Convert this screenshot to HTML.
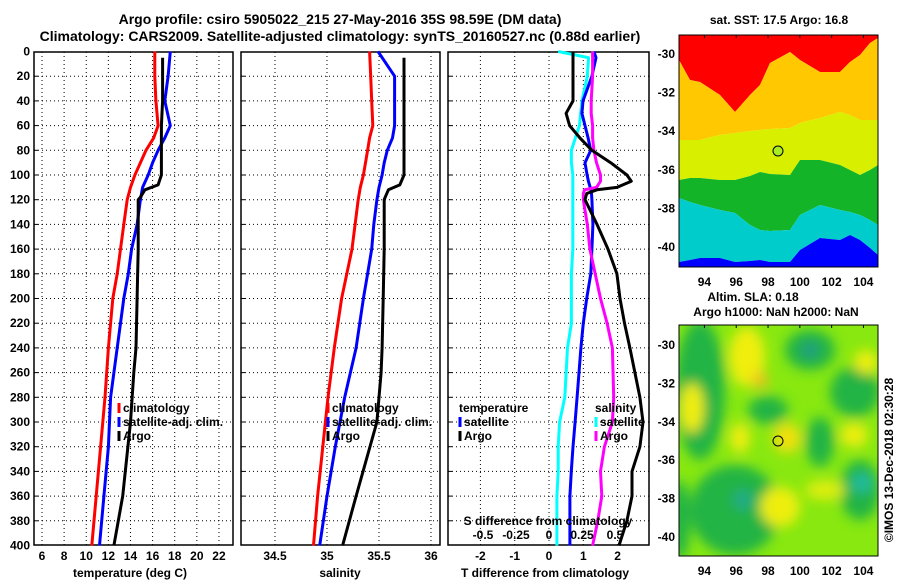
<!DOCTYPE html>
<html><head><meta charset="utf-8"><style>
html,body{margin:0;padding:0;background:#fff}
svg{display:block}
text{font-family:"Liberation Sans",Arial,sans-serif;font-weight:bold;fill:#000}
</style></head><body>
<svg id="c" width="900" height="580" xmlns="http://www.w3.org/2000/svg">
<defs><filter id="bl" x="-20%" y="-20%" width="140%" height="140%"><feGaussianBlur stdDeviation="6"/></filter>
<clipPath id="m2c"><rect x="679" y="325" width="199" height="231"/></clipPath></defs>
<text x="340" y="24" text-anchor="middle" font-size="14">Argo profile: csiro 5905022_215 27-May-2016 35S 98.59E (DM data)</text>
<text x="340" y="41" text-anchor="middle" font-size="14">Climatology: CARS2009. Satellite-adjusted climatology: synTS_20160527.nc (0.88d earlier)</text>
<g id="maps"></g>
<g id="plots"></g>
</svg>
<script>
// ---- data ----
const depthsT = [0,20,40,60,70,80,90,100,110,120,140,160,180,200,240,280,320,360,400];
const tempClim = [16.2,16.2,16.3,16.5,16.1,15.4,14.9,14.4,14.0,13.7,13.4,13.1,12.8,12.4,12.0,11.7,11.3,10.9,10.5];
const tempSat = [17.6,17.4,17.1,17.6,17.1,16.5,16.0,15.6,15.1,14.9,14.6,14.1,13.8,13.4,12.8,12.2,12.0,11.6,11.2];
const argoDepths = [5,20,40,60,80,100,108,112,118,120,160,200,240,260,300,360,400];
const tempArgo = [16.9,16.9,16.9,16.8,16.8,16.8,16.5,15.3,14.9,14.7,14.7,14.6,14.5,14.3,14.0,13.3,12.5];
const salClim = [35.41,35.42,35.43,35.44,35.41,35.39,35.37,35.35,35.32,35.30,35.27,35.24,35.19,35.14,35.07,35.01,34.96,34.91,34.87];
const salSat = [35.49,35.65,35.65,35.65,35.63,35.58,35.55,35.53,35.50,35.48,35.45,35.43,35.39,35.35,35.28,35.17,35.08,35.00,34.93];
const salArgo = [35.74,35.74,35.74,35.74,35.74,35.74,35.70,35.59,35.56,35.55,35.55,35.54,35.53,35.52,35.48,35.28,35.15];
const diffDepths = [0,5,20,40,50,60,70,80,90,100,105,110,112,115,120,140,160,180,200,220,240,280,300,320,340,360,380,400];
const dTsat = [1.31,1.37,1.25,0.99,0.96,1.05,1.14,1.22,1.05,1.11,1.15,1.2,1.22,1.24,1.25,1.28,1.25,1.22,1.1,1.0,0.93,0.82,0.76,0.7,0.65,0.61,0.61,0.61];
const dTargo = [0.7,0.7,0.7,0.7,0.5,0.6,0.9,1.25,1.8,2.27,2.4,1.98,1.4,1.1,1.05,1.4,1.72,1.98,2.07,2.2,2.36,2.65,2.74,2.65,2.42,2.42,2.27,2.04];
const dSsat = [0.07,0.30,0.29,0.25,0.24,0.23,0.20,0.17,0.17,0.18,0.18,0.18,0.18,0.18,0.18,0.18,0.18,0.17,0.17,0.17,0.14,0.12,0.08,0.07,0.07,0.06,0.06,0.06];
const dSargo = [0.33,0.33,0.33,0.32,0.32,0.33,0.33,0.34,0.36,0.39,0.39,0.36,0.27,0.26,0.26,0.29,0.31,0.35,0.39,0.44,0.48,0.49,0.48,0.42,0.39,0.40,0.37,0.33];
const depthTicks = [0,20,40,60,80,100,120,140,160,180,200,220,240,260,280,300,320,340,360,380,400];
const tTicks = [6,8,10,12,14,16,18,20,22];
const sTicks = [34.5,35,35.5,36];
const dTTicks = [-2,-1,0,1,2];
const dSTicks = [-0.5,-0.25,0,0.25,0.5];
const dSTickLabels = ["-0.5","-0.25","0","0.25","0.5"];
const latTicks = [-30,-32,-34,-36,-38,-40];
const lonTicks = [94,96,98,100,102,104];

const NS="http://www.w3.org/2000/svg";
const plots=document.getElementById('plots');
function mk(tag,attrs,parent,txt){const e=document.createElementNS(NS,tag);for(const k in attrs)e.setAttribute(k,attrs[k]);if(txt!==undefined)e.textContent=txt;(parent||plots).appendChild(e);return e;}
const yD = d => 51.5 + 1.235*d;
const PY0=52, PY1=545;
const xT = v => 42 + (v-6)*11.06;
const xS = v => 275 + (v-34.5)*104;
const xDT = v => 549 + v*34.3;
const xDS = v => 549 + v*132;

function panel(name,x0,x1,vticks,vx){
  const g=mk('g',{});  
  vticks.forEach(v=>{const l=mk('line',{x1:vx(v),x2:vx(v),y1:PY0,y2:PY1,stroke:'#000','stroke-width':1,'stroke-dasharray':'1,3'},g);
    });
  depthTicks.forEach(d=>{if(d===0||d===400)return;const l=mk('line',{x1:x0,x2:x1,y1:yD(d),y2:yD(d),stroke:'#000','stroke-width':1,'stroke-dasharray':'1,3'},g);
    
    const t=mk('line',{x1:x0,x2:x0+4,y1:yD(d),y2:yD(d),stroke:'#000','stroke-width':1},g);
    });
  const r=mk('rect',{x:x0,y:PY0,width:x1-x0,height:PY1-PY0,fill:'none',stroke:'#000','stroke-width':1.5},g);
  
  return g;
}
function line(g,name,depths,vals,xf,color){
  const pts=depths.map((d,i)=>xf(vals[i]).toFixed(1)+','+yD(d).toFixed(1)).join(' ');
  const p=mk('polyline',{points:pts,fill:'none',stroke:color,'stroke-width':3,'stroke-linejoin':'round'},g);
  
}
function label(x,y,s,name,anchor,size,g){const t=mk('text',{x:x,y:y,'text-anchor':anchor||'middle','font-size':size||12},g,s);
  return t;}
function legend(g,x,y,color,s){const l=mk('line',{x1:x+1,x2:x+1,y1:y-9,y2:y+1,stroke:color,'stroke-width':3},g);
  
  label(x+5,y,s,'legend-entry','start',12,g);}

// depth labels
depthTicks.forEach(d=>label(30,yD(d)+4,String(d),'depth-tick-label','end',12));

// panel 1
const p1=panel('temperature-panel',34,233,tTicks,xT);
line(p1,'temperature-climatology-line',depthsT,tempClim,xT,'#f00');
line(p1,'temperature-satellite-adj-line',depthsT,tempSat,xT,'#00f');
line(p1,'temperature-argo-line',argoDepths,tempArgo,xT,'#000');
tTicks.forEach(v=>label(xT(v),560,String(v),'x-tick-label'));
label(130,577,'temperature (deg C)','x-axis-title');
legend(p1,118,412,'#f00','climatology');legend(p1,118,426,'#00f','satellite-adj. clim.');legend(p1,118,440,'#000','Argo');

// panel 2
const p2=panel('salinity-panel',241,440,sTicks,xS);
line(p2,'salinity-climatology-line',depthsT,salClim,xS,'#f00');
line(p2,'salinity-satellite-adj-line',depthsT,salSat,xS,'#00f');
line(p2,'salinity-argo-line',argoDepths,salArgo,xS,'#000');
sTicks.forEach(v=>label(xS(v),560,String(v),'x-tick-label'));
label(340,577,'salinity','x-axis-title');
legend(p2,327,412,'#f00','climatology');legend(p2,327,426,'#00f','satellite-adj. clim.');legend(p2,327,440,'#000','Argo');

// panel 3
const p3=panel('difference-panel',448,649,dTTicks,xDT);
line(p3,'salinity-satellite-diff-line',diffDepths,dSsat,xDS,'#0ff');
line(p3,'temperature-satellite-diff-line',diffDepths,dTsat,xDT,'#00f');
line(p3,'salinity-argo-diff-line',diffDepths,dSargo,xDS,'#f0f');
line(p3,'temperature-argo-diff-line',diffDepths,dTargo,xDT,'#000');
dTTicks.forEach(v=>label(xDT(v),560,String(v),'t-diff-tick-label'));
dSTicks.forEach((v,i)=>label(xDS(v),539,dSTickLabels[i],'s-diff-tick-label'));
label(548,525,'S difference from climatology','s-diff-axis-title');
label(545,577,'T difference from climatology','t-diff-axis-title');
label(459,412,'temperature','legend-title','start',12,p3);
legend(p3,459,426,'#00f','satellite');legend(p3,459,440,'#000','Argo');
label(595,412,'salinity','legend-title','start',12,p3);
legend(p3,595,426,'#0ff','satellite');legend(p3,595,440,'#f0f','Argo');

// ---- maps ----
const maps=document.getElementById('maps');
const MX0=679,MX1=878;
const lonX=v=>MX0+(v-92.4)*15.9;
// map1
const m1=mk('g',{},maps);
const M1Y0=35,M1Y1=267;const lat1=v=>54+(-30-v)*19.3;
const bx=[679,690,700,720,735,750,760,770,790,800,820,840,850,860,870,878];
const bRed=[60,80,82,95,112,95,85,63,52,60,72,72,62,55,43,38];
const bOr=[140,140,140,135,133,131,130,129,128,123,118,112,115,120,120,120];
const bYe=[180,178,178,180,180,176,172,174,175,160,160,165,170,175,170,165];
const bGr=[198,202,205,210,213,225,230,231,230,215,205,210,212,215,220,225];
const bTe=[262,260,258,258,262,261,260,262,262,250,238,240,235,240,248,255];
function band(top,bot,color,name){
  let pts=bx.map((x,i)=>x+','+(top?top[i]:M1Y0)).join(' ');
  pts+=' '+bx.slice().reverse().map((x,i)=>x+','+(bot?bot[bx.length-1-i]:M1Y1)).join(' ');
  const p=mk('polygon',{points:pts,fill:color},m1);
}
band(null,bRed,'#ff0000','sst-red-region');
band(bRed,bOr,'#ffc800','sst-orange-region');
band(bOr,bYe,'#d8f000','sst-yellow-region');
band(bYe,bGr,'#14b428','sst-green-region');
band(bGr,bTe,'#00cccc','sst-cyan-region');
band(bTe,null,'#0000ff','sst-blue-region');
const c1=mk('circle',{cx:778,cy:151,r:5,fill:'#aaee22',stroke:'#000','stroke-width':1},m1);
mk('rect',{x:MX0,y:M1Y0,width:MX1-MX0,height:M1Y1-M1Y0,fill:'none',stroke:'#000','stroke-width':1},m1);
label(779,24,'sat. SST: 17.5 Argo: 16.8','sst-map-title','middle',12,m1);
latTicks.forEach(v=>label(675,lat1(v)+4,String(v),'lat-tick-label','end',12,m1));
lonTicks.forEach(v=>{label(lonX(v),286,String(v),'lon-tick-label','middle',12,m1);mk('line',{x1:lonX(v),x2:lonX(v),y1:M1Y0,y2:M1Y0+3,stroke:'#000'},m1);});
// map2
const m2=mk('g',{},maps);
const M2Y0=325,M2Y1=556;const lat2=v=>345+(-30-v)*19.2;
mk('rect',{x:MX0,y:M2Y0,width:MX1-MX0,height:M2Y1-M2Y0,fill:'#88e810'},m2);
const bg=mk('g',{'clip-path':'url(#m2c)'},m2);const bb=mk('g',{filter:'url(#bl)'},bg);
[[700,390,25,70,'#22b444'],[735,510,45,45,'#22b444'],[810,350,25,20,'#22b444'],[768,410,20,14,'#22b444'],[855,392,25,25,'#22b444'],[820,442,14,25,'#22b444'],[860,490,20,30,'#22b444'],[680,520,10,40,'#22b444'],
 [743,500,10,10,'#22aa88'],[810,350,8,8,'#229988'],[862,483,10,10,'#22bba0'],
 [692,408,12,25,'#f0ee10'],[747,357,18,30,'#f0ee10'],[760,380,8,8,'#f0c020'],[787,438,14,15,'#f0e010'],[740,438,10,15,'#eeee10'],[854,435,14,12,'#eeee10'],[780,507,20,20,'#eeee10'],[825,490,20,10,'#ddee10'],[866,362,12,12,'#eeee10']
].forEach(b=>{const e=mk('ellipse',{cx:b[0],cy:b[1],rx:b[2],ry:b[3],fill:b[4]},bb);});
const c2=mk('circle',{cx:778,cy:441,r:5,fill:'none',stroke:'#000','stroke-width':1},m2);
mk('rect',{x:MX0,y:M2Y0,width:MX1-MX0,height:M2Y1-M2Y0,fill:'none',stroke:'#000','stroke-width':1},m2);
label(753,301,'Altim. SLA: 0.18','sla-map-title','middle',12,m2);
label(776,316,'Argo h1000: NaN h2000: NaN','sla-map-subtitle','middle',12,m2);
latTicks.forEach(v=>label(675,lat2(v)+4,String(v),'lat-tick-label','end',12,m2));
lonTicks.forEach(v=>{label(lonX(v),575,String(v),'lon-tick-label','middle',12,m2);mk('line',{x1:lonX(v),x2:lonX(v),y1:M2Y0,y2:M2Y0+3,stroke:'#000'},m2);});
const im=label(0,0,'©IMOS 13-Dec-2018 02:30:28','timestamp-label','middle',12,m2);
im.setAttribute('transform','translate(893,460) rotate(-90)');im.setAttribute('font-weight','normal');
</script>
</body></html>
